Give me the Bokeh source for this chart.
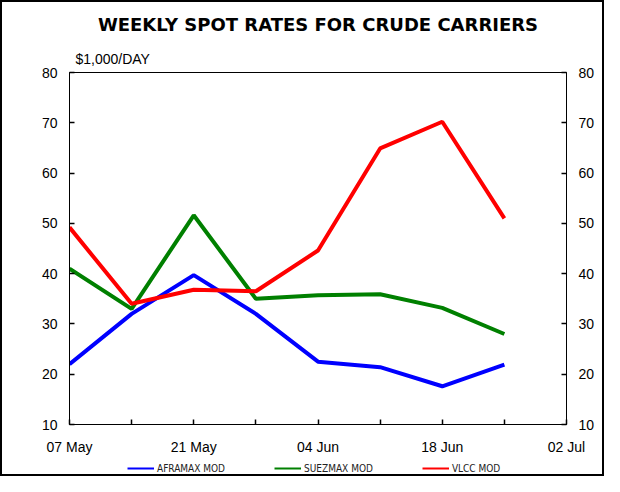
from bokeh.plotting import figure
from bokeh.layouts import column
from bokeh.models import LinearAxis, FixedTicker, Legend, LegendItem, Range1d, Title
from bokeh.embed import file_html
from bokeh.resources import INLINE

weeks = ["07 May", "14 May", "21 May", "28 May", "04 Jun", "11 Jun", "18 Jun", "25 Jun"]
tick_labels = ["07 May", "", "21 May", "", "04 Jun", "", "18 Jun", "", "02 Jul"]
series_names = ["AFRAMAX MOD", "SUEZMAX MOD", "VLCC MOD"]
aframax = [22.0, 32.0, 39.7, 32.0, 22.5, 21.4, 17.6, 21.9]
suezmax = [41.0, 33.0, 51.6, 35.0, 35.7, 35.9, 33.2, 28.0]
vlcc = [49.2, 34.0, 36.8, 36.5, 44.6, 64.9, 70.2, 51.0]
colors = ["#0000FF", "#008000", "#FF0000"]

x = list(range(len(weeks)))

FONT = "Liberation Sans"

p = figure(width=600, height=455, output_backend="svg", toolbar_location=None, title=None,
           x_range=Range1d(0, len(tick_labels) - 1), y_range=Range1d(10, 80),
           min_border_left=67, min_border_right=36, min_border_top=70, min_border_bottom=30,
           x_axis_location=None, y_axis_location=None)
p.grid.visible = False
p.outline_line_color = "black"
p.outline_line_width = 1
p.background_fill_color = None

xaxis = LinearAxis(ticker=FixedTicker(ticks=list(range(len(tick_labels)))),
                   major_label_overrides={i: t for i, t in enumerate(tick_labels)})
xaxis.major_label_standoff = 14
p.add_layout(xaxis, "below")

for side in ("left", "right"):
    ax = LinearAxis(ticker=FixedTicker(ticks=list(range(10, 81, 10))))
    ax.major_label_standoff = 12
    p.add_layout(ax, side)

for ax in p.axis:
    ax.major_tick_in = 5
    ax.major_tick_out = 0
    ax.major_tick_line_width = 1.5
    ax.minor_tick_line_color = None
    ax.major_label_text_font = FONT
    ax.major_label_text_font_size = "14px"
    ax.major_label_text_color = "black"
    ax.axis_line_color = "black"
    ax.major_tick_line_color = "black"

series = [aframax, suezmax, vlcc]
for ys, c in zip(series, colors):
    p.line(x, ys, line_color=c, line_width=4)

p.add_layout(Title(text="$1,000/DAY", align="left", offset=6, standoff=11,
                   text_font=FONT, text_font_size="14px", text_font_style="normal",
                   text_color="black"), "above")
p.add_layout(Title(text="WEEKLY SPOT RATES FOR CRUDE CARRIERS", align="center", standoff=18,
                   text_font="DejaVu Sans", text_font_size="18px", text_font_style="bold",
                   text_color="black"), "above")

# legend strip below the chart (series drawn out of view; only the legend shows)
lg = figure(width=600, height=17, output_backend="svg", toolbar_location=None, title=None,
            x_range=Range1d(0, 1), y_range=Range1d(1000, 1001), min_border=0,
            x_axis_location=None, y_axis_location=None)
lg.grid.visible = False
lg.outline_line_color = None
items = []
for name, ys, c in zip(series_names, series, colors):
    r = lg.line(x, ys, line_color=c, line_width=2)
    items.append(LegendItem(label=name, renderers=[r]))
legend = Legend(items=items, orientation="horizontal", location=(58, 0))
legend.label_text_font = "DejaVu Sans Condensed"
legend.label_text_font_size = "10px"
legend.label_text_color = "#222222"
legend.glyph_width = 27
legend.glyph_height = 12
legend.label_standoff = 3
legend.spacing = 49
legend.border_line_color = None
legend.background_fill_alpha = 0
legend.padding = 0
legend.margin = 0
lg.add_layout(legend, "center")

layout = column(p, lg, spacing=0, styles={"border": "2px solid black"})

open("out.html", "w").write(file_html(layout, INLINE))
